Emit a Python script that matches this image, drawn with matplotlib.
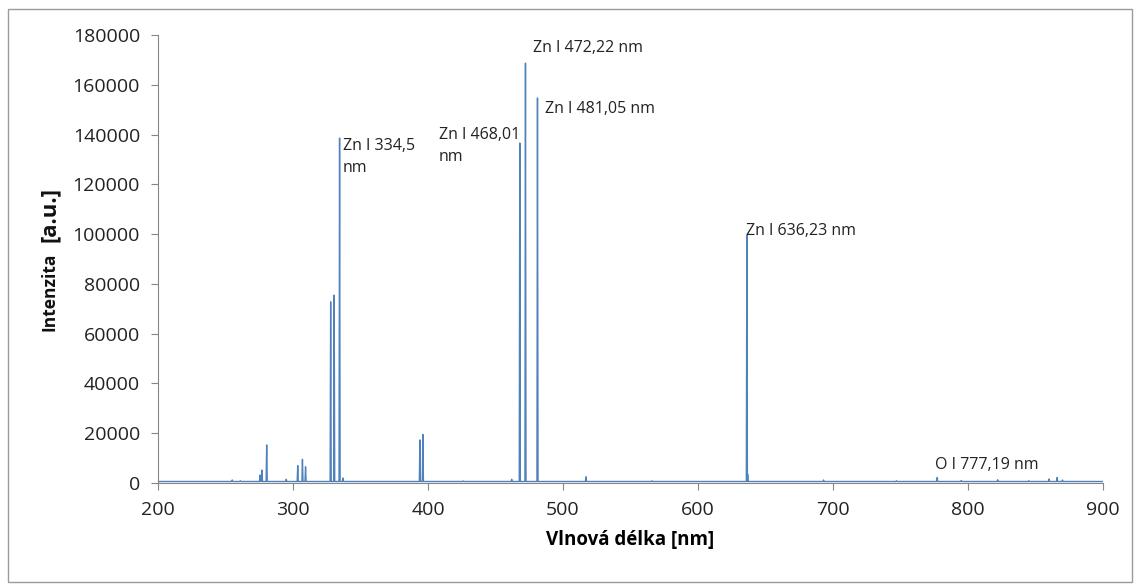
import numpy as np
import matplotlib
matplotlib.use("Agg")
import matplotlib.pyplot as plt
from matplotlib.patches import Rectangle

plt.rcParams['font.family'] = ['Open Sans', 'DejaVu Sans']

# emission lines: wavelength [nm], intensity [a.u.]
line_wl = [255.0, 261.0, 275.6, 277.0, 280.5, 295.0, 303.5, 307.0, 309.3,
           327.9, 330.5, 334.5, 337.0, 394.0, 396.2, 426.0, 462.0, 468.0,
           472.2, 481.1, 517.0, 566.0, 636.2, 636.8, 693.0, 747.0, 777.2,
           795.0, 822.0, 845.0, 860.0, 866.0, 870.0]
line_int = [1200, 900, 3200, 5200, 15300, 1500, 7000, 9500, 6500,
            72800, 75500, 138600, 2000, 17300, 19500, 800, 1500, 136600,
            168700, 154700, 2500, 900, 99600, 3500, 1200, 900, 2200,
            1000, 1300, 900, 1600, 2200, 1200]
baseline = 600
wl_min, wl_max = 200, 900

# annotations: text, x [nm], y of the text top [a.u.]
labels = ["Zn I 334,5\nnm", "Zn I 468,01\nnm", "Zn I 472,22 nm",
          "Zn I 481,05 nm", "Zn I 636,23 nm", "O I 777,19 nm"]
label_x = [337.0, 408.0, 477.5, 486.5, 635.3, 775.5]
label_y = [138700, 143200, 177800, 153300, 104300, 10400]

# build the trace: each line as a narrow spike on the baseline
xs = [wl_min]
ys = [baseline]
for c, h in sorted(zip(line_wl, line_int)):
    xs += [c - 0.4, c, c + 0.4]
    ys += [baseline, h, baseline]
xs.append(wl_max)
ys.append(baseline)

fig = plt.figure(figsize=(11.35, 5.88), dpi=100)
fig.patches.append(Rectangle((8 / 1135, 6 / 588), 1124 / 1135, 573 / 588,
                             transform=fig.transFigure, fill=False,
                             edgecolor='#9a9a9a', lw=1))
ax = fig.add_axes([158 / 1135, 105 / 588, 945 / 1135, 448 / 588])
ax.plot(xs, ys, color='#4F81BD', lw=1.0)

ax.set_xlim(wl_min, wl_max)
ax.set_ylim(0, 180000)
ax.set_xticks(range(200, 901, 100))
ax.set_yticks(range(0, 180001, 20000))
for s in ['top', 'right']:
    ax.spines[s].set_visible(False)
for s in ['left', 'bottom']:
    ax.spines[s].set_color('#868686')
ax.tick_params(axis='both', direction='out', length=5, color='#868686',
               labelsize=14, labelcolor='#222222', pad=8)

for t, x, y in zip(labels, label_x, label_y):
    ax.text(x, y, t, fontsize=11.5, color='#222222', va='top', ha='left',
            linespacing=1.55)

ax.set_xlabel('Vlnová délka [nm]', fontsize=13.5, fontweight='bold', labelpad=8)

# y label: "[a.u.]" is set larger than "Intenzita" in the original
fig.text(50 / 1135, 1 - 292 / 588, 'Intenzita', rotation=90, fontsize=12.5,
         fontweight='bold', color='#111111', ha='center', va='center')
fig.text(49 / 1135, 1 - 215 / 588, '[a.u.]', rotation=90, fontsize=16,
         fontweight='bold', color='#111111', ha='center', va='center')

fig.savefig('out.png', dpi=100)
